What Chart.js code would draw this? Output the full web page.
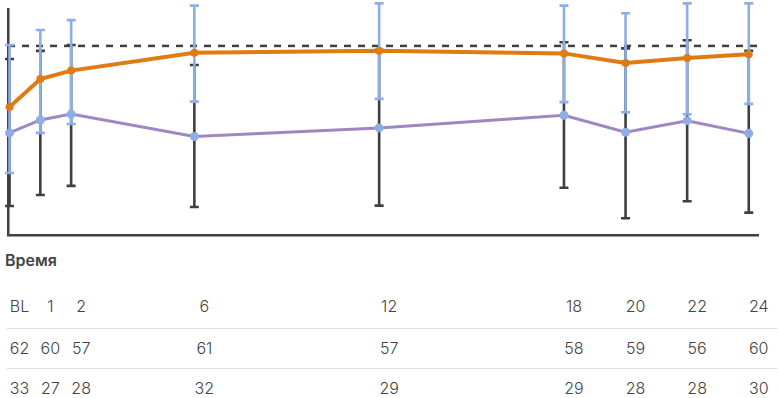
<!DOCTYPE html>
<html><head><meta charset="utf-8">
<script src="https://cdn.jsdelivr.net/npm/chart.js@4/dist/chart.umd.min.js"></script>
<style>
html,body{margin:0;padding:0;background:#fff;}
#wrap{position:relative;width:779px;height:398px;overflow:hidden;font-family:Inter,'Noto Sans',sans-serif;}
#chartBox{position:absolute;left:0;top:0;width:779px;height:240px;}
.lbl{position:absolute;font-size:16px;line-height:20px;font-weight:300;color:#444;white-space:nowrap;transform:translateX(-50%);}
.title{position:absolute;left:5px;top:249.5px;font-size:16px;line-height:20px;font-weight:600;color:#444;}
.sep{position:absolute;left:7px;width:770px;height:0;border-top:1.5px solid #dcdcdc;}
</style></head><body>
<div id="wrap"><div id="chartBox"><canvas id="c"></canvas></div><div class="title">Время</div></div>
<script>
const times = [0, 1, 2, 6, 12, 18, 20, 22, 24];
const timeLabels = ['BL', '1', '2', '6', '12', '18', '20', '22', '24'];
const orangeMean = [56.7, 69.1, 72.8, 80.7, 81.6, 80.4, 76.2, 78.4, 80.0];
const orangeLow  = [27.6, 45.3, 49.2, 59.1, 60.3, 58.9, 54.4, 53.5, 58.1];
const orangeHigh = [84.1, 90.7, 95.1, 101.5, 102.5, 101.5, 98.1, 102.5, 102.5];
const purpleMean = [45.3, 51.0, 53.6, 43.7, 47.5, 53.1, 45.6, 50.7, 45.1];
const purpleLow  = [13.0, 17.9, 21.9, 12.6, 13.2, 21.1, 7.6, 15.1, 10.1];
const purpleHigh = [77.9, 81.5, 84.1, 75.3, 81.9, 85.3, 82.6, 86.2, 81.6];
const referenceValue = 83.7;
const countsRow1 = [62, 60, 57, 61, 57, 58, 59, 56, 60];
const countsRow2 = [33, 27, 28, 32, 29, 29, 28, 28, 30];

const xMin = -0.05, xMax = 24.3;
const C_ORANGE = '#e07b12', C_PURPLE = '#9e87c2', C_BLUE = '#8daee6', C_DARK = '#3f3f3f';

const errorBarPlugin = {
  id: 'errorBars',
  afterDatasetDraw(chart, args) {
    if (args.index !== 2) return;
    const {ctx, scales: {x, y}} = chart;
    const drawSet = (low, high, color) => {
      ctx.save();
      ctx.strokeStyle = color; ctx.lineWidth = 2.6; ctx.lineCap = 'butt';
      times.forEach((t, i) => {
        const px = x.getPixelForValue(t);
        const y1 = y.getPixelForValue(low[i]), y2 = y.getPixelForValue(high[i]);
        ctx.beginPath();
        ctx.moveTo(px, y1); ctx.lineTo(px, y2);
        ctx.moveTo(px - 4.5, y1); ctx.lineTo(px + 4.5, y1);
        ctx.moveTo(px - 4.5, y2); ctx.lineTo(px + 4.5, y2);
        ctx.stroke();
      });
      ctx.restore();
    };
    drawSet(purpleLow, purpleHigh, C_DARK);
    drawSet(orangeLow, orangeHigh, C_BLUE);
  }
};

const toXY = arr => arr.map((v, i) => ({x: times[i], y: v}));

const chart = new Chart(document.getElementById('c'), {
  type: 'line',
  data: {
    datasets: [
      {data: toXY(orangeMean), borderColor: C_ORANGE, backgroundColor: C_ORANGE, borderWidth: 4,
       pointRadius: 4, pointBorderWidth: 0, pointBackgroundColor: C_ORANGE, clip: false, order: 0},
      {data: toXY(purpleMean), borderColor: C_PURPLE, backgroundColor: C_BLUE, borderWidth: 3,
       pointRadius: 4.5, pointBorderWidth: 0, pointBackgroundColor: C_BLUE, clip: false, order: 1},
      {data: [{x: xMin, y: referenceValue}, {x: xMax, y: referenceValue}], borderColor: C_DARK,
       borderWidth: 2.5, borderDash: [7, 7], pointRadius: 0, clip: false, order: 2}
    ]
  },
  options: {
    responsive: true, maintainAspectRatio: false, animation: false, events: [],
    layout: {padding: {left: 8, right: 21, top: 9, bottom: 4.5}},
    plugins: {legend: {display: false}, tooltip: {enabled: false}},
    scales: {
      x: {type: 'linear', min: xMin, max: xMax, ticks: {display: false}, grid: {display: false, drawTicks: false},
          border: {display: true, color: '#404040', width: 2.5}},
      y: {type: 'linear', min: 0, max: 100, ticks: {display: false}, grid: {display: false, drawTicks: false},
          border: {display: true, color: '#404040', width: 2.5}, z: 1}
    }
  },
  plugins: [errorBarPlugin]
});

const wrap = document.getElementById('wrap');
const labelOffset = 10;
const rows = [
  {values: timeLabels, top: 296},
  {values: countsRow1, top: 338},
  {values: countsRow2, top: 378}
];
rows.forEach(r => {
  r.values.forEach((v, i) => {
    const d = document.createElement('div');
    d.className = 'lbl';
    d.textContent = String(v);
    d.style.left = (chart.scales.x.getPixelForValue(times[i]) + labelOffset) + 'px';
    d.style.top = r.top + 'px';
    wrap.appendChild(d);
  });
});
[327.5, 367.5].forEach(t => {
  const s = document.createElement('div');
  s.className = 'sep'; s.style.top = t + 'px';
  wrap.appendChild(s);
});
</script>
</body></html>
